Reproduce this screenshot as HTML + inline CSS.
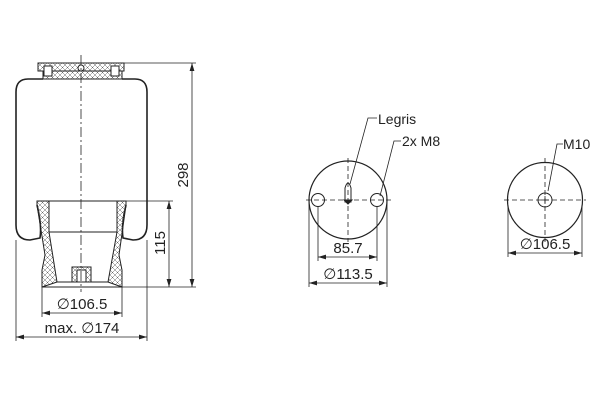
<!DOCTYPE html><html><head><style>body{margin:0;background:#fff}svg{display:block}text{font-family:"Liberation Sans","DejaVu Sans",sans-serif;fill:#222}</style></head><body>
<svg width="600" height="400" viewBox="0 0 600 400" xmlns="http://www.w3.org/2000/svg">
<defs><marker id="a" viewBox="0 0 10 6" refX="10" refY="3" markerWidth="10" markerHeight="6" orient="auto-start-reverse"><path d="M0,0L10,3L0,6z" fill="#222"/></marker>
<pattern id="h" width="5" height="5" patternUnits="userSpaceOnUse"><path d="M0,0L5,5M5,0L0,5" stroke="#666" stroke-width="0.5"/></pattern></defs>
<g stroke="#222" fill="none" stroke-width="1">
<rect x="38" y="63" width="86" height="8" fill="url(#h)"/>
<rect x="43" y="71" width="79" height="8" fill="url(#h)"/>
<rect x="44" y="66" width="8" height="10" fill="#fff"/><rect x="111" y="66" width="8" height="10" fill="#fff"/>
<circle cx="81" cy="68" r="3" fill="#fff"/>
<path d="M43,79 L28,79 Q16,79 16,92 L16,225 Q16,240 30,240 L40,238 Q42,225 37,205" stroke-width="1.6"/>
<path d="M122,79 L135,79 Q147,79 147,92 L147,225 Q147,240 133,240 L123,238 Q121,225 126,205" stroke-width="1.6"/>
<path d="M37,201 L49,201 L49,232 L57,282 L42,287 L42,270 L45,255 L37,205 Z" fill="url(#h)"/>
<path d="M126,201 L117,201 L117,232 L108,282 L122,287 L122,270 L119,255 L126,205 Z" fill="url(#h)"/>
<line x1="37" y1="201" x2="126" y2="201"/><line x1="49" y1="232" x2="117" y2="232"/>
<line x1="42" y1="287" x2="122" y2="287"/><line x1="57" y1="282" x2="108" y2="282"/>
<rect x="72" y="267" width="19" height="15" fill="url(#h)"/><rect x="77" y="270" width="9" height="12" fill="#fff"/>
<line x1="81" y1="55" x2="81" y2="292" stroke-dasharray="10,3,2,3" stroke-width="0.8"/>
<g stroke-width="0.8">
<line x1="124" y1="63" x2="196" y2="63"/><line x1="122" y1="287" x2="196" y2="287"/><line x1="126" y1="201" x2="173" y2="201"/>
<line x1="192" y1="63" x2="192" y2="287" marker-start="url(#a)" marker-end="url(#a)"/>
<line x1="169" y1="201" x2="169" y2="287" marker-start="url(#a)" marker-end="url(#a)"/>
<line x1="42" y1="287" x2="42" y2="317"/><line x1="122" y1="287" x2="122" y2="317"/>
<line x1="42" y1="313" x2="122" y2="313" marker-start="url(#a)" marker-end="url(#a)"/>
<line x1="16" y1="240" x2="16" y2="341"/><line x1="147" y1="240" x2="147" y2="341"/>
<line x1="16" y1="337" x2="147" y2="337" marker-start="url(#a)" marker-end="url(#a)"/>
</g>
<circle cx="348" cy="200" r="39" stroke-width="1.2"/>
<circle cx="318" cy="200" r="6.5"/><circle cx="377" cy="200" r="6.5"/>
<path d="M345,202 L345,188 Q348,178 351,188 L351,202 Z"/><path d="M344,200 L352,200 L348,204 Z" fill="#222"/>
<g stroke-width="0.8" stroke-dasharray="5,3"><line x1="306" y1="200" x2="391" y2="200"/><line x1="348" y1="158" x2="348" y2="242"/></g>
<g stroke-width="0.8">
<line x1="318" y1="207" x2="318" y2="261"/><line x1="377" y1="207" x2="377" y2="261"/>
<line x1="318" y1="257" x2="377" y2="257" marker-start="url(#a)" marker-end="url(#a)"/>
<line x1="309" y1="202" x2="309" y2="287"/><line x1="387" y1="202" x2="387" y2="287"/>
<line x1="309" y1="283" x2="387" y2="283" marker-start="url(#a)" marker-end="url(#a)"/>
<polyline points="350,184 368,118 377,118"/><polyline points="380,196 394,141 401,141"/>
</g>
<circle cx="545" cy="200" r="37.5" stroke-width="1.2"/>
<circle cx="545" cy="200" r="7"/>
<g stroke-width="0.8" stroke-dasharray="5,3"><line x1="504" y1="200" x2="586" y2="200"/><line x1="545" y1="158" x2="545" y2="242"/></g>
<g stroke-width="0.8">
<line x1="541" y1="200" x2="549" y2="200"/><line x1="545" y1="196" x2="545" y2="204"/>
<line x1="508" y1="205" x2="508" y2="257"/><line x1="582" y1="205" x2="582" y2="257"/>
<line x1="508" y1="253" x2="582" y2="253" marker-start="url(#a)" marker-end="url(#a)"/>
<polyline points="548,191 557,144 563,144"/>
</g>
</g>
<g font-size="15">
<text x="82" y="309" text-anchor="middle">∅106.5</text>
<text x="82" y="333" text-anchor="middle">max. ∅174</text>
<text transform="translate(188,175) rotate(-90)" text-anchor="middle">298</text>
<text transform="translate(165,243) rotate(-90)" text-anchor="middle">115</text>
<text x="348" y="253" text-anchor="middle">85.7</text>
<text x="348" y="279" text-anchor="middle">∅113.5</text>
<text x="545" y="249" text-anchor="middle">∅106.5</text>
<text x="378" y="124" font-size="14">Legris</text>
<text x="402" y="146" font-size="14">2x M8</text>
<text x="563" y="149" font-size="14">M10</text>
</g>
</svg></body></html>
